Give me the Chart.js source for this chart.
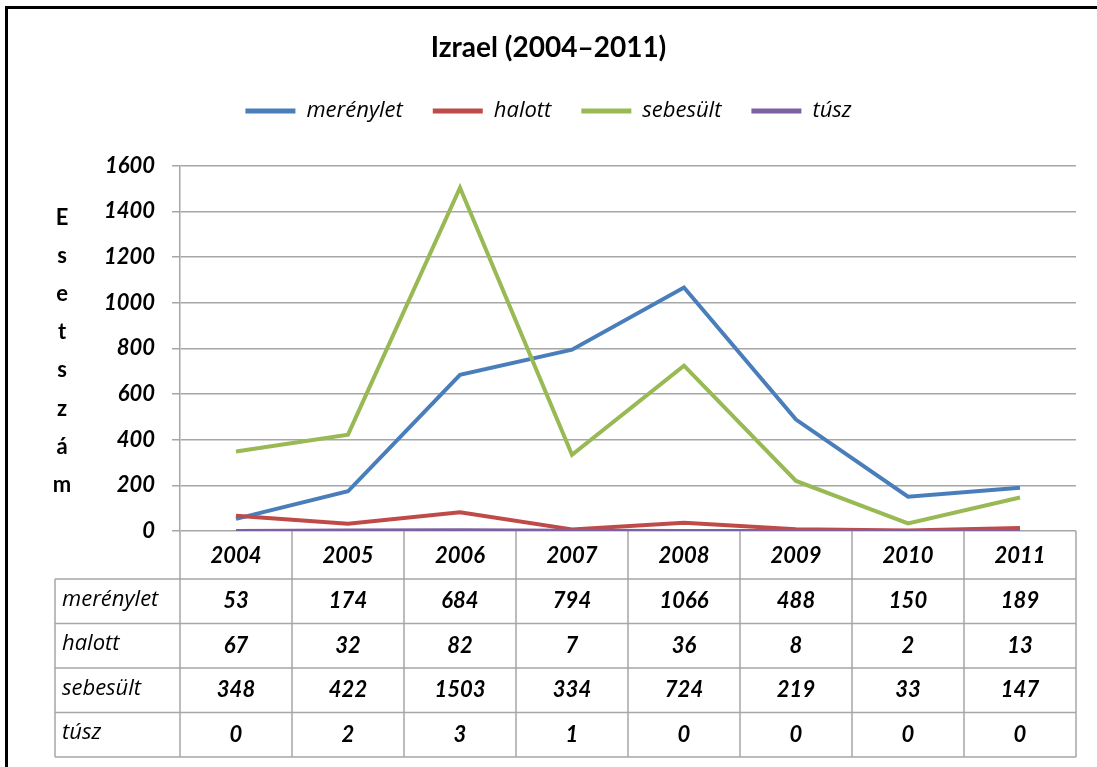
<!DOCTYPE html>
<html>
<head>
<meta charset="utf-8">
<script src="https://cdn.jsdelivr.net/npm/chart.js@4"></script>
<style>
  body { margin: 0; background: #fff; }
  #wrap { position: relative; width: 1097px; height: 767px; }
  #frame { position: absolute; left: 5px; top: 6px; right: 0; bottom: 0;
           border-top: 3px solid #000; border-left: 3px solid #000; pointer-events: none; }
</style>
</head>
<body>
<div id="wrap">
  <canvas id="chart"></canvas>
  <div id="frame"></div>
</div>
<script>
// Chart data
const years = ['2004', '2005', '2006', '2007', '2008', '2009', '2010', '2011'];
const merenylet = [53, 174, 684, 794, 1066, 488, 150, 189];
const halott = [67, 32, 82, 7, 36, 8, 2, 13];
const sebesult = [348, 422, 1503, 334, 724, 219, 33, 147];
const tusz = [0, 2, 3, 1, 0, 0, 0, 0];
const seriesNames = ['merénylet', 'halott', 'sebesült', 'túsz'];
const seriesColors = ['#4A7EBB', '#BE4B48', '#98B954', '#7D60A0'];
const yTitle = 'Esetszám';

const gridColor = '#a6a6a6';
const FONT = 'Lato, "Open Sans", sans-serif';
const TEXT_FONT = '"Open Sans", Lato, sans-serif';

// Extra space under the legend, before the plot starts
const legendSpacer = {
    id: 'legendSpacer',
    afterInit(chart) {
        const legend = chart.legend;
        const fit = legend.fit;
        legend.fit = function() {
            fit.call(this);
            this.height += 33.6;
        };
    }
};

// Data table under the plot, columns follow the x scale
const dataTable = {
    id: 'dataTable',
    afterDraw(chart) {
        const ctx = chart.ctx;
        const x = chart.scales.x;
        const area = chart.chartArea;
        const rows = [merenylet, halott, sebesult, tusz];
        const colW = (area.right - area.left) / years.length;
        const headerH = 48;
        const rowH = 44.5;
        const top = area.bottom;
        const tableLeft = 55;
        const bottom = top + headerH + rowH * rows.length;

        ctx.save();
        ctx.strokeStyle = gridColor;
        ctx.lineWidth = 1.5;
        ctx.beginPath();
        // vertical lines
        for (let i = 0; i <= years.length; i++) {
            const px = area.left + i * colW;
            ctx.moveTo(px, top);
            ctx.lineTo(px, bottom);
        }
        ctx.moveTo(tableLeft, top + headerH);
        ctx.lineTo(tableLeft, bottom);
        // horizontal lines
        for (let r = 0; r <= rows.length; r++) {
            const py = top + headerH + r * rowH;
            ctx.moveTo(tableLeft, py);
            ctx.lineTo(area.right, py);
        }
        ctx.stroke();

        ctx.fillStyle = '#000';
        ctx.textBaseline = 'middle';
        ctx.textAlign = 'center';
        ctx.font = 'italic bold 22px ' + FONT;
        years.forEach((yr, i) => {
            ctx.fillText(yr, x.getPixelForValue(i), top + headerH / 2 + 1);
        });
        rows.forEach((vals, r) => {
            const cy = top + headerH + r * rowH + rowH / 2;
            vals.forEach((v, i) => {
                ctx.fillText(String(v), x.getPixelForValue(i), cy);
            });
        });
        ctx.textAlign = 'left';
        ctx.font = 'italic 22px ' + TEXT_FONT;
        seriesNames.forEach((name, r) => {
            const cy = top + headerH + r * rowH + rowH / 2 - 2;
            ctx.fillText(name, tableLeft + 7, cy);
        });

        // stacked y axis title
        ctx.textAlign = 'center';
        ctx.font = 'bold 22px ' + FONT;
        Array.from(yTitle).forEach((ch, i) => {
            ctx.fillText(ch, 62, 218 + i * 38.1);
        });
        ctx.restore();
    }
};

const datasets = seriesNames.map((name, i) => ({
    label: name,
    data: [merenylet, halott, sebesult, tusz][i],
    borderColor: seriesColors[i],
    backgroundColor: seriesColors[i],
    borderWidth: 4,
    pointRadius: 0,
    tension: 0,
    order: seriesNames.length - i
}));

new Chart(document.getElementById('chart'), {
    type: 'line',
    data: { labels: years, datasets: datasets },
    plugins: [legendSpacer, dataTable],
    options: {
        responsive: true,
        maintainAspectRatio: false,
        animation: false,
        layout: { padding: { top: 10, left: 21, right: 21, bottom: 0 } },
        plugins: {
            title: {
                display: true,
                text: 'Izrael (2004–2011)',
                color: '#000',
                font: { family: FONT, size: 28, weight: 'bold' },
                padding: { top: 21.2, bottom: 5.2 }
            },
            legend: {
                position: 'top',
                labels: {
                    color: '#000',
                    font: { family: TEXT_FONT, size: 22, style: 'italic' },
                    boxWidth: 50,
                    boxHeight: 5,
                    padding: 30,
                    sort: (a, b) => a.datasetIndex - b.datasetIndex,
                    generateLabels: chart => Chart.defaults.plugins.legend.labels.generateLabels(chart)
                        .map(item => Object.assign(item, { lineWidth: 0 }))
                }
            },
            tooltip: { enabled: false }
        },
        scales: {
            x: {
                offset: true,
                grid: { display: false },
                border: { display: false },
                ticks: { display: false },
                afterFit: s => { s.height = 236; }
            },
            y: {
                min: 0,
                max: 1600,
                ticks: {
                    stepSize: 200,
                    color: '#000',
                    padding: 17,
                    font: { family: FONT, size: 22, style: 'italic', weight: 'bold' },
                    callback: v => String(v)
                },
                grid: { color: gridColor, lineWidth: 1.5, tickLength: 8 },
                border: { color: gridColor, width: 1.5 },
                afterFit: s => { s.width = 159; }
            }
        }
    }
});
</script>
</body>
</html>
